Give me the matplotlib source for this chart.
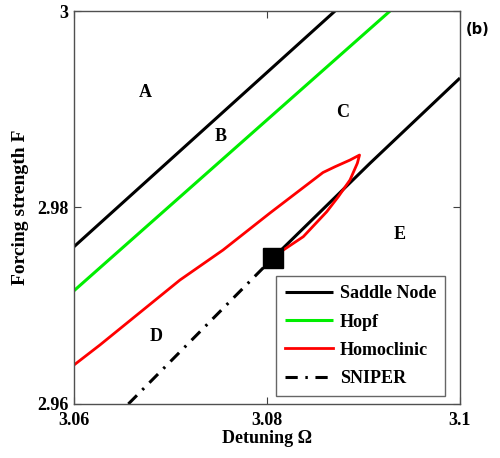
import matplotlib
matplotlib.use("Agg")
import matplotlib.pyplot as plt

# Saddle node (left branch)
sn_left_x = [3.0600, 3.08705]
sn_left_y = [2.97601, 3.0000]
# Saddle node (right branch, from cusp point)
sn_right_x = [3.08065, 3.09067, 3.1000]
sn_right_y = [2.97489, 2.98450, 2.99318]
# Hopf
hopf_x = [3.0600, 3.09275]
hopf_y = [2.97153, 3.0000]
# Homoclinic
homo_x = [3.0600, 3.06269, 3.07098, 3.07544, 3.08031, 3.08580, 3.08705, 3.08860,
          3.08959, 3.08936, 3.08860, 3.08739, 3.08619, 3.08376, 3.08169, 3.08083]
homo_y = [2.96397, 2.96601, 2.97262, 2.97567, 2.97944, 2.98356, 2.98415, 2.98483,
          2.98534, 2.98450, 2.98280, 2.98110, 2.97957, 2.97703, 2.97567, 2.97506]
# SNIPER
sniper_x = [3.06563, 3.08065]
sniper_y = [2.9600, 2.97489]
# Codimension-two point
cusp_x = [3.08065]
cusp_y = [2.97489]

region_labels = ["A", "B", "C", "D", "E"]
region_x = [3.06736, 3.07520, 3.08784, 3.06850, 3.09378]
region_y = [2.99169, 2.98721, 2.98965, 2.96685, 2.97730]

xticks = [3.06, 3.08, 3.10]
xticklabels = ["3.06", "3.08", "3.1"]
yticks = [2.96, 2.98, 3.00]
yticklabels = ["2.96", "2.98", "3"]

serif = ["Liberation Serif", "DejaVu Serif"]
plt.rcParams['font.family'] = serif

fig = plt.figure(figsize=(5.0, 4.58), dpi=100)
W, H = 500, 458
ax = fig.add_axes([74 / W, 1 - 404 / H, (460 - 74) / W, (404 - 11) / H])

ax.plot(sn_left_x, sn_left_y, color="black", lw=2.2, label="Saddle Node", solid_capstyle="butt")
ax.plot(sn_right_x, sn_right_y, color="black", lw=2.2, solid_capstyle="butt")
ax.plot(hopf_x, hopf_y, color="#00ee00", lw=2.2, label="Hopf", solid_capstyle="butt")
ax.plot(homo_x, homo_y, color="#ff0000", lw=2.0, label="Homoclinic")
ax.plot(sniper_x, sniper_y, color="black", lw=2.2, linestyle=(0, (4, 2.5, 0.8, 2.5)), label="SNIPER")
ax.plot(cusp_x, cusp_y, marker="s", color="black", markersize=15, linestyle="none")

for lab, x, y in zip(region_labels, region_x, region_y):
    ax.text(x, y, lab, ha="center", va="center", fontsize=13, fontweight="bold")

ax.set_xlim(3.06, 3.10)
ax.set_ylim(2.96, 3.00)
ax.set_xticks(xticks)
ax.set_xticklabels(xticklabels, fontsize=13, fontweight="bold")
ax.set_yticks(yticks)
ax.set_yticklabels(yticklabels, fontsize=13, fontweight="bold")
ax.tick_params(direction="in", length=5, width=0.8, top=True, right=True, color="#404040")
ax.tick_params(axis="x", pad=5.5)
ax.tick_params(axis="y", pad=4)
for sp in ax.spines.values():
    sp.set_color("#505050")
    sp.set_linewidth(1.0)

ax.set_xlabel("Detuning Ω", fontsize=13, fontweight="bold", labelpad=1)
ax.set_ylabel("Forcing strength F", fontsize=14, fontweight="bold", labelpad=6)

fig.text(478 / W, 1 - 30 / H, "(b)", fontsize=10.5, fontweight="bold",
         family=["DejaVu Sans"], ha="center", va="center")

leg = ax.legend(loc="lower right", bbox_to_anchor=(445 / W, 1 - 396 / H),
                bbox_transform=fig.transFigure, borderaxespad=0,
                prop={"weight": "bold", "size": 13}, frameon=True, fancybox=False,
                handlelength=2.7, labelspacing=0.62, borderpad=0.5, handletextpad=0.35)
leg.get_frame().set_edgecolor("#404040")
leg.get_frame().set_linewidth(1.0)

fig.savefig("out.png", dpi=100)
